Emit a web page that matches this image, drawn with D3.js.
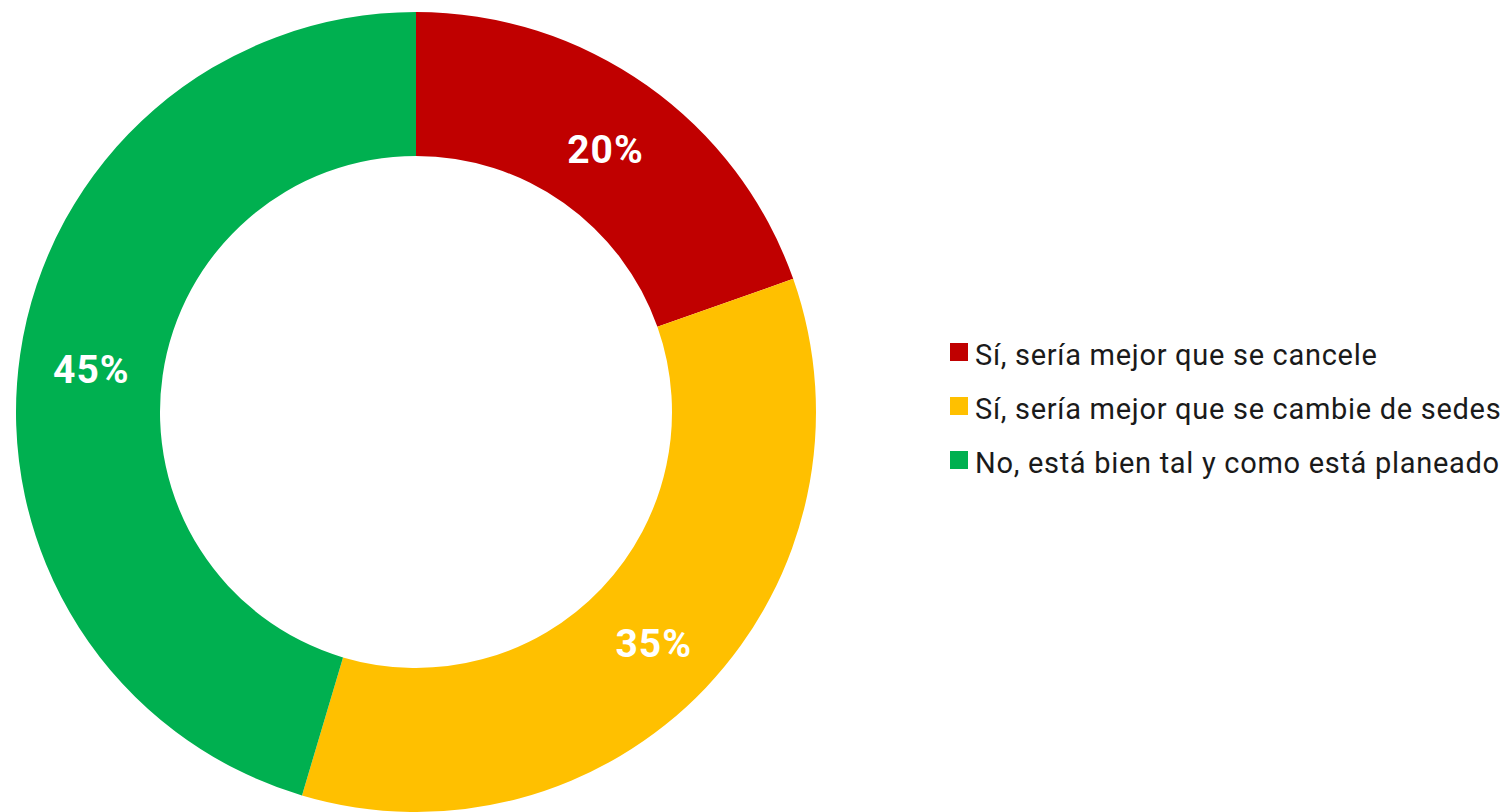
<!DOCTYPE html>
<html>
<head>
<meta charset="utf-8">
<script src="https://cdn.jsdelivr.net/npm/d3@7"></script>
<style>
  body { margin: 0; background: #fff; }
  svg { display: block; }
</style>
</head>
<body>
<svg width="1511" height="812"></svg>
<script>
var categories = ["Sí, sería mejor que se cancele", "Sí, sería mejor que se cambie de sedes", "No, está bien tal y como está planeado"];
var values = [19.6, 35.0, 45.4];
var labels = ["20%", "35%", "45%"];
var colors = ["#C00000", "#FFC000", "#00B050"];

var svg = d3.select("svg");
var cx = 416, cy = 412, outerR = 400, innerR = 256;

var data = categories.map(function(c, i) {
  return { name: c, value: values[i], label: labels[i], color: colors[i] };
});

var pie = d3.pie().sort(null).value(function(d) { return d.value; });
var arc = d3.arc().innerRadius(innerR).outerRadius(outerR);
var labelArc = d3.arc().innerRadius(328).outerRadius(328);

var g = svg.append("g").attr("transform", "translate(" + cx + "," + cy + ")");

g.selectAll("path")
  .data(pie(data))
  .enter().append("path")
    .attr("d", arc)
    .attr("fill", function(d) { return d.data.color; });

g.selectAll("text")
  .data(pie(data))
  .enter().append("text")
    .attr("transform", function(d) {
      var c = labelArc.centroid(d);
      return "translate(" + c[0] + "," + (c[1] + 5) + ")";
    })
    .attr("text-anchor", "middle")
    .attr("dy", "0.35em")
    .attr("fill", "#fff")
    .style("font-family", "Roboto, sans-serif")
    .style("font-weight", "bold")
    .style("font-size", "39px")
    .style("letter-spacing", "1px")
    .text(function(d) { return d.data.label; });

var legend = svg.append("g").attr("transform", "translate(950,355)");
var item = legend.selectAll("g")
  .data(data)
  .enter().append("g")
    .attr("transform", function(d, i) { return "translate(0," + (i * 54) + ")"; });

item.append("rect")
  .attr("x", 0).attr("y", -12)
  .attr("width", 18).attr("height", 18)
  .attr("fill", function(d) { return d.color; });

item.append("text")
  .attr("x", 25)
  .attr("y", 0)
  .attr("dy", "0.35em")
  .attr("fill", "#1a1a1a")
  .style("font-family", "Roboto, sans-serif")
  .style("font-size", "29px")
  .style("letter-spacing", "0.7px")
  .text(function(d) { return d.name; });
</script>
</body>
</html>
